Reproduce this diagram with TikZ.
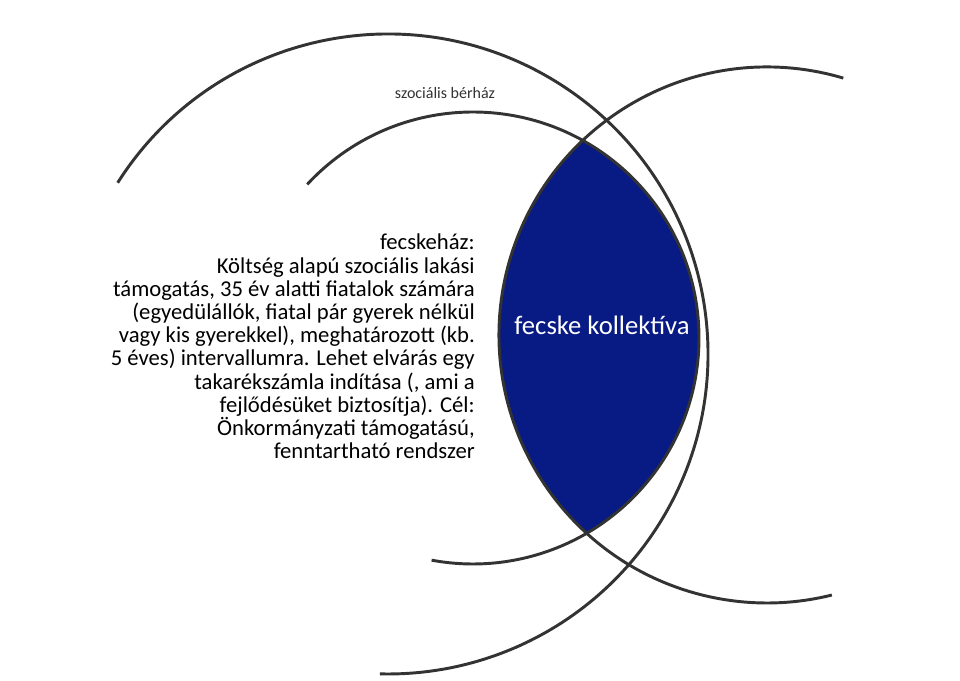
\documentclass[tikz,border=0pt]{standalone}
\usepackage{fontspec}
\setmainfont{Carlito}
\definecolor{lensblue}{RGB}{8,26,132}
\definecolor{arcgray}{RGB}{51,51,51}
\begin{document}
\begin{tikzpicture}[x=0.75pt,y=0.75pt,
  arcline/.style={draw=arcgray,line width=2.2pt},
  body/.style={anchor=base east,inner sep=0pt,font=\fontsize{17}{20}\selectfont},
  small/.style={inner sep=0pt,text=arcgray,font=\fontsize{12}{14}\selectfont},
  lenstext/.style={inner sep=0pt,text=white,font=\fontsize{20}{24}\selectfont}]
\useasboundingbox (0,0) rectangle (960,681);
\coordinate (C1) at (388,327);
\coordinate (C2) at (473,343);
\coordinate (C3) at (767,346);
% lens fill
\begin{scope}
  \clip (C2) circle[radius=226];
  \fill[lensblue] (C3) circle[radius=268];
\end{scope}
% arcs
\draw[arcline] ([shift={(C1)}]147.65:320) arc[start angle=147.65,end angle=-91.44,radius=320];
\draw[arcline] ([shift={(C2)}]137.19:226) arc[start angle=137.19,end angle=-100.56,radius=226];
\draw[arcline] ([shift={(C3)}]73.46:268) arc[start angle=73.46,end angle=284,radius=268];
% texts
\node[small] (sb) at (445,588) {szociális bérház};
\node[lenstext] (fk) at (602,356) {fecske kollektíva};
\node[body] (l1) at (475,431) {fecskeház:};
\node[body] (l2) at (475,407.8) {Költség alapú szociális lakási};
\node[body] (l3) at (475,384.6) {támogatás, 35 év alatti fiatalok számára};
\node[body] (l4) at (475,361.4) {(egyedülállók, fiatal pár gyerek nélkül};
\node[body] (l5) at (475,338.2) {vagy kis gyerekkel), meghatározott (kb.};
\node[body] (l6) at (475,315) {5 éves) intervallumra. Lehet elvárás egy};
\node[body] (l7) at (475,291.8) {takarékszámla indítása (, ami a};
\node[body] (l8) at (475,268.6) {fejlődésüket biztosítja). Cél:};
\node[body] (l9) at (475,245.4) {Önkormányzati támogatású,};
\node[body] (l10) at (475,222.2) {fenntartható rendszer};
\end{tikzpicture}
\end{document}
